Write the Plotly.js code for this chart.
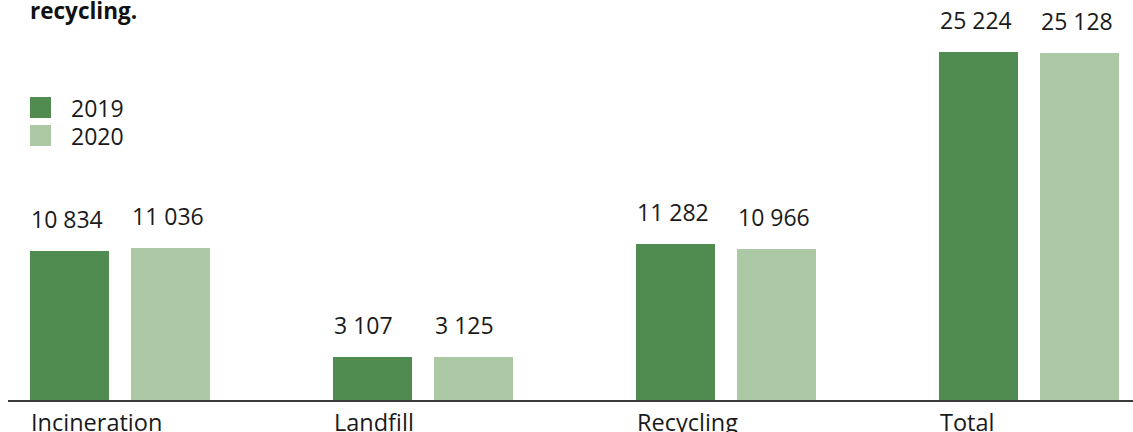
<!DOCTYPE html>
<html>
<head>
<meta charset="utf-8">
<script src="https://cdn.plot.ly/plotly-3.0.1.min.js"></script>
<style>html,body{margin:0;padding:0;background:#fff;}#chart{width:1133px;height:432px;}</style>
</head>
<body>
<div id="chart"></div>
<script>
const categories = ['Incineration', 'Landfill', 'Recycling', 'Total'];
const seriesNames = ['2019', '2020'];
const values2019 = [10834, 3107, 11282, 25224];
const values2020 = [11036, 3125, 10966, 25128];
const titleText = 'recycling.';

const colors = ['#508c50', '#acc8a5'];
const FONT = '"Open Sans", "Noto Sans", sans-serif';
const W = 1133, H = 432, ML = 8, MB = 32;
const plotW = W - ML, plotH = H - MB;
const barW = 0.782;

const pos2019 = categories.map((c, i) => 3 * i);
const pos2020 = categories.map((c, i) => 3 * i + 1);

function fmt(n) { return String(n).replace(/\B(?=(\d{3})+(?!\d))/g, ' '); }

const traces = [
  {type: 'bar', name: seriesNames[0], x: pos2019, y: values2019, width: barW,
   marker: {color: colors[0]}, hoverinfo: 'none', showlegend: false},
  {type: 'bar', name: seriesNames[1], x: pos2020, y: values2020, width: barW,
   marker: {color: colors[1]}, hoverinfo: 'none', showlegend: false}
];

const annotations = [];
[[pos2019, values2019], [pos2020, values2020]].forEach(([xs, ys]) => {
  xs.forEach((x, i) => {
    annotations.push({x: x - barW / 2, y: ys[i], xref: 'x', yref: 'y', text: fmt(ys[i]),
      showarrow: false, xanchor: 'left', yanchor: 'bottom', yshift: 14, xshift: -1,
      font: {family: FONT, size: 23, color: '#1a1a1a'}});
  });
});
categories.forEach((c, i) => {
  annotations.push({x: pos2019[i] - barW / 2, y: 0, xref: 'x', yref: 'paper', text: c,
    showarrow: false, xanchor: 'left', yanchor: 'top', yshift: -4, xshift: -1,
    font: {family: FONT, size: 23.5, color: '#1a1a1a'}});
});

// legend
const px2x = p => (p - ML) / plotW;
const py2y = p => (plotH - p) / plotH;
const shapes = [];
const legendTops = [97, 125];
seriesNames.forEach((s, k) => {
  const t = legendTops[k];
  shapes.push({type: 'rect', xref: 'paper', yref: 'paper',
    x0: px2x(30), x1: px2x(51), y0: py2y(t + 21), y1: py2y(t),
    fillcolor: colors[k], line: {width: 0}});
  annotations.push({xref: 'paper', yref: 'paper', x: px2x(69), y: py2y(t + 10.5),
    text: s, showarrow: false, xanchor: 'left', yanchor: 'middle', height: 24, valign: 'middle',
    font: {family: FONT, size: 23, color: '#1a1a1a'}});
});

const layout = {
  width: W, height: H,
  margin: {l: ML, r: 0, t: 0, b: MB, pad: 0},
  paper_bgcolor: '#fff', plot_bgcolor: '#fff',
  title: {text: '<b>' + titleText + '</b>', x: 30 / W, xanchor: 'left', xref: 'container',
    y: 1 - 19 / H, yanchor: 'bottom', yref: 'container',
    font: {family: FONT, size: 22.5, color: '#111'}},
  xaxis: {range: [-0.609, 10.530], showgrid: false, zeroline: false, showticklabels: false,
    ticks: '', showline: true, linecolor: '#3a3a3a', linewidth: 1.5, fixedrange: true},
  yaxis: {range: [0, 400 * 25224 / 348], showgrid: false, zeroline: false,
    showticklabels: false, ticks: '', showline: false, fixedrange: true},
  bargap: 0, showlegend: false,
  annotations: annotations, shapes: shapes
};

Plotly.newPlot('chart', traces, layout, {displayModeBar: false, staticPlot: true});
</script>
</body>
</html>
